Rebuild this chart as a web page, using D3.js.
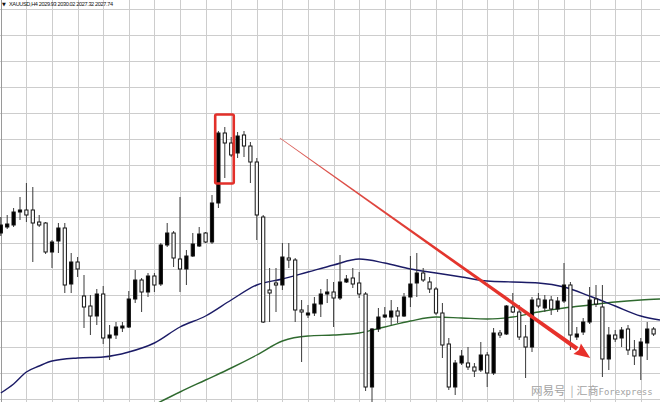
<!DOCTYPE html>
<html><head><meta charset="utf-8">
<script src="https://cdn.jsdelivr.net/npm/d3@7"></script>
<style>html,body{margin:0;padding:0;background:#fff;overflow:hidden}</style>
</head><body><svg id="chart" width="660" height="402"></svg>
<script>
// ---------- data ----------
const symbolLabel = "XAUUSD,H4";
const lastBar = ["2029.93", "2030.02", "2027.32", "2027.74"];

const opens = [2049.4,2050.6,2051.0,2053.6,2054.0,2054.0,2051.6,2051.4,2045.6,2047.8,
2050.4,2039.2,2043.6,2036.8,2034.8,2032.8,2037.2,2028.4,2029.0,2030.4,
2030.6,2036.2,2040.0,2037.6,2040.8,2039.2,2047.0,2049.4,2044.2,2042.2,
2044.8,2046.8,2049.4,2047.6,2055.4,2069.4,2067.4,2065.4,2069.0,2066.8,
2063.6,2052.6,2038.0,2039.4,2039.0,2044.4,2044.0,2034.0,2033.0,2033.4,
2035.2,2037.2,2037.6,2036.4,2039.6,2040.4,2039.4,2037.2,2018.6,2030.2,
2032.6,2032.6,2033.8,2032.8,2036.6,2039.4,2041.4,2039.6,2038.2,2033.4,
2027.2,2018.6,2023.4,2023.4,2022.6,2022.0,2025.0,2021.4,2029.4,2029.2,
2034.6,2033.6,2028.6,2026.6,2036.2,2034.4,2036.0,2034.2,2035.8,2039.0,
2028.6,2029.6,2031.6,2036.2,2034.6,2024.2,2029.0,2028.4,2030.2,2026.0,
2024.8,2027.4,2030.2];

const highs = [2052.6,2053.0,2054.4,2056.6,2059.4,2058.6,2053.0,2051.6,2048.0,2051.4,
2051.4,2045.4,2044.6,2041.0,2037.0,2038.2,2038.8,2031.0,2031.6,2031.6,
2037.8,2042.0,2040.4,2041.4,2041.4,2047.4,2051.4,2049.8,2056.6,2046.0,
2049.4,2050.6,2049.6,2057.0,2069.8,2070.6,2068.6,2069.6,2069.8,2067.6,
2064.4,2053.0,2042.4,2042.4,2047.4,2047.4,2044.4,2036.0,2035.0,2036.6,
2038.2,2040.2,2039.6,2045.0,2041.0,2042.4,2041.6,2037.6,2030.4,2034.4,
2034.6,2036.0,2034.6,2037.4,2044.8,2045.4,2042.4,2040.6,2038.6,2035.4,
2028.4,2024.0,2026.0,2026.6,2023.4,2027.6,2025.6,2030.4,2030.0,2035.0,
2037.4,2035.0,2031.0,2036.6,2037.4,2037.0,2036.8,2036.6,2043.4,2039.6,
2030.6,2032.4,2038.6,2039.0,2039.0,2030.6,2030.0,2030.6,2031.0,2028.0,
2028.4,2031.6,2030.6];

const lows = [2048.8,2050.2,2050.6,2052.0,2051.6,2043.6,2050.6,2045.2,2042.4,2045.4,
2037.4,2037.4,2040.6,2030.4,2029.0,2031.0,2027.2,2024.0,2028.2,2029.6,
2030.4,2035.4,2033.6,2036.6,2037.6,2038.8,2046.6,2042.6,2037.6,2039.0,
2044.6,2046.6,2047.4,2047.2,2054.4,2060.4,2064.6,2064.4,2064.6,2059.4,
2048.0,2031.4,2031.6,2033.6,2038.0,2042.4,2031.6,2023.6,2032.4,2032.8,
2032.6,2035.4,2030.6,2036.0,2039.4,2038.4,2036.4,2017.8,2015.2,2029.6,
2032.4,2031.0,2031.4,2032.6,2034.6,2036.6,2039.6,2037.4,2033.0,2024.4,
2018.0,2017.0,2023.0,2022.0,2020.6,2021.6,2018.6,2021.0,2028.4,2029.0,
2033.4,2028.0,2020.4,2025.6,2034.4,2033.6,2033.0,2033.6,2035.4,2026.0,
2028.0,2029.0,2031.2,2034.6,2020.6,2022.0,2027.6,2026.6,2025.0,2023.0,
2020.0,2024.0,2028.8];

const closes = [2051.0,2051.2,2053.6,2054.0,2053.0,2051.4,2051.0,2045.6,2047.6,2050.4,
2039.0,2043.6,2042.2,2034.6,2032.8,2037.2,2028.4,2029.0,2030.6,2030.8,
2036.2,2040.0,2037.6,2040.8,2039.0,2047.0,2049.4,2044.4,2042.2,2044.8,
2047.2,2049.2,2047.6,2055.4,2069.4,2067.4,2065.0,2068.8,2066.8,2063.6,
2053.0,2031.6,2037.4,2039.0,2044.6,2044.0,2034.0,2033.6,2033.4,2035.2,
2037.2,2037.6,2036.4,2039.6,2040.2,2039.2,2037.2,2018.6,2030.2,2032.6,
2033.0,2033.8,2032.8,2036.6,2039.2,2041.4,2040.0,2038.2,2033.4,2027.0,
2018.6,2023.4,2024.8,2022.6,2021.8,2025.0,2021.4,2029.4,2029.0,2034.8,
2033.6,2028.6,2026.6,2036.0,2034.8,2036.0,2034.2,2035.8,2039.0,2029.0,
2029.2,2031.6,2036.0,2035.2,2024.2,2029.0,2028.2,2030.0,2026.0,2024.8,
2027.6,2030.2,2029.2];

// moving averages (bar index, price)
const navyIdx = [0,2,4,6,8,12,16,20,24,28,32,36,40,44,48,52,56,60,64,68,72,76,80,84,88,92,96,100,103];
const navyVal = [2017.4,2019.2,2021.6,2022.8,2023.8,2024.4,2024.6,2025.6,2027.4,2030.6,2032.8,2036.0,2039.0,2040.2,2041.6,2043.0,2044.2,2043.4,2042.2,2041.4,2040.6,2039.8,2039.6,2039.4,2038.6,2036.8,2034.8,2032.8,2032.0];
const greenIdx = [23,28,32,36,40,44,48,52,56,60,64,68,72,76,80,84,88,92,96,100,103];
const greenVal = [2014.4,2017.6,2020.0,2022.4,2025.0,2027.8,2028.8,2029.0,2029.4,2030.6,2031.8,2032.6,2032.4,2032.2,2032.6,2033.6,2034.4,2035.0,2035.6,2036.0,2036.2];

// grid (price levels) and time grid every N bars
const gridPrices = [2094.2,2089.0,2083.8,2078.6,2073.4,2068.2,2063.0,2057.8,2052.6,2047.4,2042.2,2037.0,2031.8,2026.6,2021.4,2016.2];
const gridEveryBars = 4;

// annotations (bar index, price)
const boxIdx = [33.5, 36.4];
const boxPrice = [2073.1, 2059.3];
const arrowIdx = [43.6, 92.1];
const arrowPrice = [2068.4, 2024.4];

const watermarkCJK = "网易号";
const watermarkSep = "|";
const watermarkBrandCJK = "汇商";
const watermarkBrand = "Forexpress";

// ---------- drawing ----------
const W = 660, H = 402;
const svg = d3.select("#chart");
svg.append("rect").attr("width", W).attr("height", H).attr("fill", "#fff");

const x = d3.scaleLinear().domain([0, 103]).range([0.8, 660]);
const y = d3.scaleLinear().domain([2096, 2015.6]).range([0, H]);

const bars = opens.map((o, i) => ({i, o, h: highs[i], l: lows[i], c: closes[i]}));

// horizontal grid
const gy = svg.append("g").attr("class", "grid-y")
  .call(d3.axisLeft(y).tickValues(gridPrices).tickSize(-W).tickFormat(""));
gy.select(".domain").remove();
gy.selectAll(".tick line").attr("stroke", "#cdcdcd").attr("shape-rendering", "crispEdges");

// vertical grid
const vIdx = bars.filter(b => b.i % gridEveryBars === 0).map(b => b.i);
const gx = svg.append("g").attr("class", "grid-x").attr("transform", `translate(0,0)`)
  .call(d3.axisTop(x).tickValues(vIdx).tickSize(-H).tickFormat(""));
gx.select(".domain").remove();
gx.selectAll(".tick line").attr("stroke", "#cdcdcd").attr("shape-rendering", "crispEdges");
gx.selectAll(".tick").filter(d => d === 0).select("line").attr("stroke", "#9a9a9a");

// moving averages
const line = d3.line().x(d => x(d[0])).y(d => y(d[1])).curve(d3.curveMonotoneX);
svg.append("path").datum(greenIdx.map((v, k) => [v, greenVal[k]]))
  .attr("d", line).attr("fill", "none").attr("stroke", "#2f6a2f").attr("stroke-width", 1.4);
svg.append("path").datum(navyIdx.map((v, k) => [v, navyVal[k]]))
  .attr("d", line).attr("fill", "none").attr("stroke", "#1b1b66").attr("stroke-width", 1.4);

// candles
const cg = svg.append("g").attr("class", "candles");
cg.selectAll("line.wick").data(bars).join("line").attr("class", "wick")
  .attr("x1", d => x(d.i)).attr("x2", d => x(d.i))
  .attr("y1", d => y(d.h)).attr("y2", d => y(d.l))
  .attr("stroke", "#3a3a3a").attr("stroke-width", 1);
cg.selectAll("rect.body").data(bars).join("rect").attr("class", "body")
  .attr("x", d => x(d.i) - 1.6).attr("width", 3.2)
  .attr("y", d => y(Math.max(d.o, d.c)))
  .attr("height", d => Math.max(0.6, Math.abs(y(d.o) - y(d.c))))
  .attr("fill", d => d.c >= d.o ? "#000" : "#fff")
  .attr("stroke", "#111").attr("stroke-width", 1);

// red box
svg.append("rect")
  .attr("x", x(boxIdx[0])).attr("y", y(boxPrice[0]))
  .attr("width", x(boxIdx[1]) - x(boxIdx[0]))
  .attr("height", y(boxPrice[1]) - y(boxPrice[0]))
  .attr("rx", 1.5).attr("fill", "none")
  .attr("stroke", "#e2302a").attr("stroke-width", 2.6);

// tapered arrow
{
  const x0 = x(arrowIdx[0]), y0 = y(arrowPrice[0]);
  const x1 = x(arrowIdx[1]), y1 = y(arrowPrice[1]);
  const dx = x1 - x0, dy = y1 - y0, len = Math.hypot(dx, dy);
  const ux = dx / len, uy = dy / len, px = -uy, py = ux;
  const headLen = 16, headHalf = 6.5, w0 = 0.35, w1 = 2.1;
  const bx = x1 - ux * headLen, by = y1 - uy * headLen;
  const shaft = [[x0 + px * w0, y0 + py * w0], [bx + px * w1, by + py * w1],
                 [bx - px * w1, by - py * w1], [x0 - px * w0, y0 - py * w0]];
  const head = [[x1, y1], [bx + px * headHalf, by + py * headHalf],
                [bx + ux * 2, by + uy * 2], [bx - px * headHalf, by - py * headHalf]];
  const grad = svg.append("defs").append("linearGradient").attr("id", "ag")
    .attr("gradientUnits", "userSpaceOnUse")
    .attr("x1", x0).attr("y1", y0).attr("x2", x1).attr("y2", y1);
  grad.append("stop").attr("offset", "0").attr("stop-color", "#d9605a");
  grad.append("stop").attr("offset", "0.5").attr("stop-color", "#e2352d");
  grad.append("stop").attr("offset", "1").attr("stop-color", "#e8302a");
  svg.append("path").attr("d", "M" + shaft.join("L") + "Z").attr("fill", "url(#ag)");
  svg.append("path").attr("d", "M" + head.join("L") + "Z").attr("fill", "#e8302a");
}

// title
svg.append("text").attr("x", 2).attr("y", 6).attr("font-size", 5)
  .attr("font-family", "DejaVu Sans").attr("fill", "#111").text("▼");
svg.append("text").attr("x", 9).attr("y", 6.3)
  .attr("font-family", "Liberation Sans, Arial, sans-serif").attr("font-size", 5.6)
  .attr("fill", "#111").attr("textLength", 104).attr("lengthAdjust", "spacing")
  .text(symbolLabel + "  " + lastBar.join(" "));

// watermark
const wm = svg.append("text").attr("x", 531).attr("y", 395).attr("fill", "#a3a3a3");
wm.append("tspan").attr("font-family", "Noto Sans CJK SC").attr("font-size", 11.5).text(watermarkCJK);
wm.append("tspan").attr("dx", 5).attr("font-family", "Noto Sans CJK SC").attr("font-size", 11).text(watermarkSep);
wm.append("tspan").attr("dx", 3).attr("font-family", "Noto Sans CJK SC").attr("font-size", 11).text(watermarkBrandCJK);
wm.append("tspan").attr("font-family", "DejaVu Sans Mono").attr("font-size", 9).text(watermarkBrand);
</script></body></html>
